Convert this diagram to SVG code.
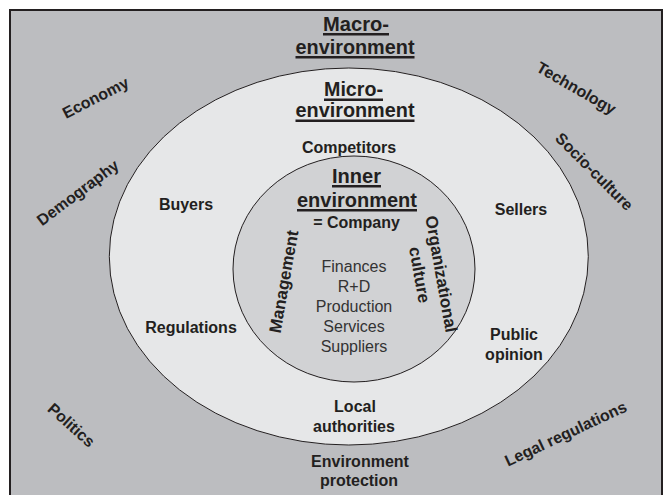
<svg xmlns="http://www.w3.org/2000/svg" width="665" height="495" viewBox="0 0 665 495">
<style>
.b{font-family:"Liberation Sans",Arial,sans-serif;font-weight:bold;font-size:16px;fill:#231f20;text-anchor:middle}
.h{font-family:"Liberation Sans",Arial,sans-serif;font-weight:bold;font-size:21px;fill:#231f20;text-anchor:middle}
.r{font-family:"Liberation Sans",Arial,sans-serif;font-size:16px;fill:#333;text-anchor:middle}
.v{font-family:"Liberation Sans",Arial,sans-serif;font-weight:bold;font-size:17px;fill:#231f20;text-anchor:middle}
.u{fill:#231f20}
.ring{stroke:#231f20;stroke-width:1}
</style>
<rect x="0" y="0" width="665" height="495" fill="#ffffff"/>
<g id="macro">
<rect x="10" y="10" width="652" height="500" fill="#bcbdc0" stroke="#231f20" stroke-width="2"/>
<text class="h" x="356" y="31" textLength="66" lengthAdjust="spacingAndGlyphs">Macro-</text>
<rect class="u" x="323" y="33" width="66" height="2.5"/>
<text class="h" x="355" y="54" textLength="119" lengthAdjust="spacingAndGlyphs">environment</text>
<rect class="u" x="295.5" y="56" width="119" height="2.5"/>
<text class="b" transform="translate(98,102.6) rotate(-27)">Economy</text>
<text class="b" transform="translate(573.6,92.9) rotate(30)">Technology</text>
<text class="b" transform="translate(81,197) rotate(-37)">Demography</text>
<text class="b" transform="translate(590.5,175.5) rotate(45)">Socio-culture</text>
<text class="b" transform="translate(67.7,429.2) rotate(42)">Politics</text>
<text class="b" transform="translate(568,438.7) rotate(-25)">Legal regulations</text>
<text class="b" x="360" y="467">Environment</text>
<text class="b" x="359" y="486">protection</text>
</g>
<g id="micro">
<ellipse class="ring" cx="348.8" cy="256.5" rx="239.5" ry="188.5" fill="#e6e7e8"/>
<text class="h" x="353.5" y="96" textLength="59" lengthAdjust="spacingAndGlyphs">Micro-</text>
<rect class="u" x="324" y="98.5" width="59" height="2.5"/>
<text class="h" x="355" y="117" textLength="119" lengthAdjust="spacingAndGlyphs">environment</text>
<rect class="u" x="295.5" y="119.5" width="119" height="2.5"/>
<text class="b" x="349" y="153">Competitors</text>
<text class="b" x="186" y="210">Buyers</text>
<text class="b" x="521" y="215">Sellers</text>
<text class="b" x="191" y="333">Regulations</text>
<text class="b" x="514" y="340">Public</text>
<text class="b" x="514" y="360">opinion</text>
<text class="b" x="355" y="412">Local</text>
<text class="b" x="354" y="432">authorities</text>
</g>
<g id="inner">
<ellipse class="ring" cx="354" cy="269" rx="121" ry="113" fill="#d1d2d4"/>
<text class="h" x="356.5" y="183" textLength="49" lengthAdjust="spacingAndGlyphs">Inner</text>
<rect class="u" x="332" y="185" width="49" height="2.5"/>
<text class="h" x="357" y="206.5" textLength="120" lengthAdjust="spacingAndGlyphs">environment</text>
<rect class="u" x="297" y="209" width="120" height="2.5"/>
<text class="b" x="356.5" y="227.5">= Company</text>
<text class="v" transform="translate(289.4,282.5) rotate(-80)">Management</text>
<text class="v" transform="translate(435.6,275) rotate(80)">Organizational</text>
<text class="v" transform="translate(414,276) rotate(80)">culture</text>
<text class="r" x="354" y="272">Finances</text>
<text class="r" x="354" y="292">R+D</text>
<text class="r" x="354" y="312">Production</text>
<text class="r" x="354" y="332">Services</text>
<text class="r" x="354" y="351.5">Suppliers</text>
</g>
</svg>
